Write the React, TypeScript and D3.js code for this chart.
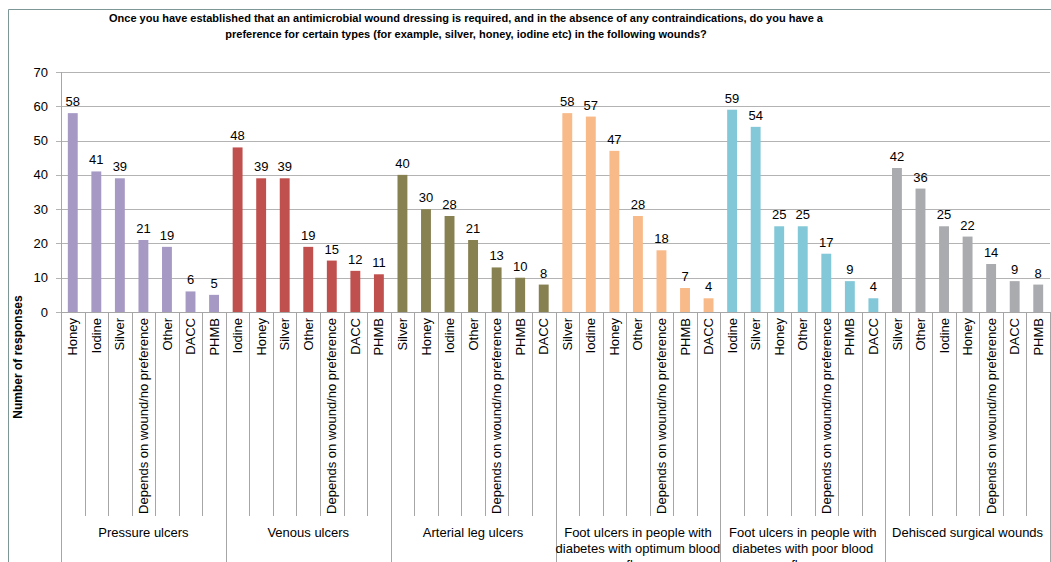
import React from "react";
import * as d3 from "d3";

const groups = [
  "Pressure ulcers",
  "Venous ulcers",
  "Arterial leg ulcers",
  "Foot ulcers in people with diabetes with optimum blood flow",
  "Foot ulcers in people with diabetes with poor blood flow",
  "Dehisced surgical wounds",
];
const groupLabelLines = [
  ["Pressure ulcers"],
  ["Venous ulcers"],
  ["Arterial leg ulcers"],
  ["Foot ulcers in people with", "diabetes with optimum blood", "flow"],
  ["Foot ulcers in people with", "diabetes with poor blood", "flow"],
  ["Dehisced surgical wounds"],
];
const DEP = "Depends on wound/no preference";
const categories = [
  ["Honey", "Iodine", "Silver", DEP, "Other", "DACC", "PHMB"],
  ["Iodine", "Honey", "Silver", "Other", DEP, "DACC", "PHMB"],
  ["Silver", "Honey", "Iodine", "Other", DEP, "PHMB", "DACC"],
  ["Silver", "Iodine", "Honey", "Other", DEP, "PHMB", "DACC"],
  ["Iodine", "Silver", "Honey", "Other", DEP, "PHMB", "DACC"],
  ["Silver", "Other", "Iodine", "Honey", DEP, "DACC", "PHMB"],
];
const values = [
  [58, 41, 39, 21, 19, 6, 5],
  [48, 39, 39, 19, 15, 12, 11],
  [40, 30, 28, 21, 13, 10, 8],
  [58, 57, 47, 28, 18, 7, 4],
  [59, 54, 25, 25, 17, 9, 4],
  [42, 36, 25, 22, 14, 9, 8],
];
const colors = ["#A69AC5", "#C0504D", "#878152", "#F9BA8A", "#82C8D8", "#A9ABAE"];
const yTicks = [0, 10, 20, 30, 40, 50, 60, 70];
const titleLines = [
  "Once you have established that an antimicrobial wound dressing is required, and in the absence of any contraindications, do you have a",
  "preference for certain types (for example, silver, honey, iodine etc) in the following wounds?",
];
const yTitle = "Number of responses";

const W = 1051, H = 562;
const left = 61, right = 1050, top = 72, bottom = 312;
const font = "'Liberation Sans', Arial, sans-serif";

export default function App() {
  const items = groups.flatMap((g, gi) =>
    categories[gi].map((c, ci) => ({ key: `${gi}-${ci}`, gi, ci, cat: c, v: values[gi][ci] }))
  );
  const x = d3.scaleBand<string>().domain(items.map((d) => d.key)).range([left, right]).paddingInner(0).paddingOuter(0);
  const y = d3.scaleLinear().domain([0, 70]).range([bottom, top]);
  const bw = x.bandwidth();
  const barW = bw * 0.42;
  const groupW = bw * 7;

  return (
    <svg width={W} height={H} style={{ position: "absolute", left: 0, top: 0, background: "#fff" }} fontFamily={font}>
      <rect x={0} y={0} width={W} height={H} fill="#fff" />
      {/* frame */}
      <path d={`M8.5,${H} V9.5 H${W}`} fill="none" stroke="#7D9797" strokeWidth={1} />
      {/* title */}
      {titleLines.map((t, i) => (
        <text key={i} x={466} y={22 + i * 16} textAnchor="middle" fontSize={11} fontWeight="bold" fill="#000">
          {t}
        </text>
      ))}
      {/* gridlines */}
      {yTicks.map((t) => (
        <g key={t}>
          <line x1={left - 5} x2={right} y1={Math.round(y(t)) + 0.5} y2={Math.round(y(t)) + 0.5} stroke="#B3B3B3" strokeWidth={1.2} />
          <text x={48} y={y(t)} dy="0.35em" textAnchor="end" fontSize={13} fill="#000">
            {t}
          </text>
        </g>
      ))}
      {/* y axis line */}
      <line x1={left + 0.5} x2={left + 0.5} y1={top} y2={H} stroke="#A6A6A6" />
      {/* bars */}
      {items.map((d) => {
        const cx = (x(d.key) as number) + bw / 2;
        return (
          <g key={d.key}>
            <rect x={cx - barW / 2} y={y(d.v)} width={barW} height={y(0) - y(d.v)} fill={colors[d.gi]} />
            <text x={cx} y={y(d.v) - 7} textAnchor="middle" fontSize={13} fill="#000">
              {d.v}
            </text>
            <text
              transform={`translate(${cx},318) rotate(-90)`}
              textAnchor="end"
              dy="0.35em"
              fontSize={13}
              fill="#000"
            >
              {d.cat}
            </text>
          </g>
        );
      })}
      {/* category separators */}
      {items.map((d, i) =>
        i % 7 === 0 ? null : (
          <line key={"s" + i} x1={Math.round(x(d.key) as number) + 0.5} x2={Math.round(x(d.key) as number) + 0.5} y1={bottom} y2={516} stroke="#A6A6A6" />
        )
      )}
      {groups.map((g, gi) => {
        const gx = left + groupW * (gi + 1);
        return (
          <line key={"g" + gi} x1={Math.round(gx) + 0.5} x2={Math.round(gx) + 0.5} y1={bottom} y2={H} stroke="#A6A6A6" />
        );
      })}
      {/* group labels */}
      {groupLabelLines.map((lines, gi) => (
        <text key={"gl" + gi} textAnchor="middle" fontSize={13} fill="#000">
          {lines.map((l, li) => (
            <tspan key={li} x={left + groupW * (gi + 0.5)} y={537 + li * 16}>
              {l}
            </tspan>
          ))}
        </text>
      ))}
      {/* x axis baseline */}
      <line x1={left} x2={right} y1={bottom + 0.5} y2={bottom + 0.5} stroke="#A6A6A6" />
      {/* y title */}
      <text transform={`translate(22,357) rotate(-90)`} textAnchor="middle" fontSize={12} fontWeight="bold" fill="#000">
        {yTitle}
      </text>
    </svg>
  );
}
